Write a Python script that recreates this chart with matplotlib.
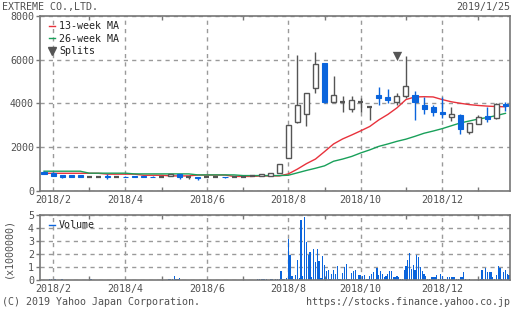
import matplotlib
matplotlib.use('Agg')
import matplotlib.pyplot as plt
from matplotlib.lines import Line2D
import numpy as np
import pandas as pd

# weekly candles, week of 2018/1/29 .. week of 2019/1/21
opens = [875, 830, 740, 730, 730, 650, 660, 690, 645, 660, 680, 680, 660,
         650, 690, 780, 640, 650, 640, 640, 650, 630, 630, 680, 700, 690,
         830, 1520, 3170, 3540, 4690, 5840, 4050, 4090, 3770, 4050, 3860,
         4370, 4280, 4050, 4320, 4410, 3910, 3860, 3590, 3400, 3490, 2710,
         3080, 3450, 3340, 3990]
highs = [900, 850, 750, 740, 740, 660, 670, 760, 650, 670, 690, 690, 670,
         660, 800, 790, 650, 660, 650, 650, 660, 640, 640, 690, 760, 830,
         1240, 3030, 6210, 4460, 6340, 5840, 5240, 4320, 4320, 4230, 3860,
         4740, 4640, 4460, 6160, 4550, 4280, 3950, 4280, 3820, 3540, 3130,
         3490, 3860, 4030, 4060]
lows = [780, 680, 600, 650, 650, 640, 640, 560, 630, 630, 640, 640, 630,
        640, 680, 550, 560, 520, 630, 630, 610, 620, 620, 670, 690, 680,
        820, 1500, 3130, 2990, 4460, 4000, 4050, 3590, 3590, 3590, 3260,
        3950, 4000, 3910, 4230, 3260, 3500, 3450, 3360, 3220, 2620, 2620,
        3060, 3170, 3310, 3650]
closes = [790, 690, 650, 660, 660, 650, 660, 650, 645, 640, 650, 650, 640,
          650, 780, 650, 640, 610, 640, 640, 620, 630, 630, 680, 760, 830,
          1240, 3030, 3950, 4460, 5790, 4090, 4370, 4090, 4140, 4050, 3860,
          4230, 4140, 4320, 4780, 4050, 3770, 3590, 3540, 3540, 2850, 3130,
          3400, 3310, 4000, 3880]

ma13 = [810, 810, 810, 810, 810, 810, 810, 770, 770, 770, 770, 720, 720,
        720, 690, 690, 690, 730, 730, 730, 730, 665, 665, 665, 690, 690,
        690, 780, 1000, 1250, 1460, 1800, 2150, 2380, 2560, 2750, 2950,
        3250, 3500, 3800, 4180, 4300, 4310, 4300, 4180, 4080, 4010, 3950,
        3910, 3880, 3860, 3850]
ma26 = [905, 905, 905, 905, 905, 815, 815, 815, 815, 815, 782, 782, 782,
        782, 782, 782, 782, 736, 736, 736, 736, 736, 705, 705, 705, 705,
        705, 720, 830, 940, 1040, 1150, 1360, 1460, 1580, 1740, 1880, 2040,
        2150, 2270, 2370, 2500, 2640, 2740, 2850, 2980, 3110, 3200, 3290,
        3360, 3450, 3550]

split_week = 39
split_price = 6160

# daily volume (x1000000), 5 trading slots per week
volume = [
    0.03, 0.02, 0.02, 0.03, 0.02,   0.05, 0.10, 0.03, 0.08, 0.02,
    0.03, 0.02, 0.06, 0.02, 0.02,   0.02, 0.03, 0.02, 0.02, 0.03,
    0.02, 0.02, 0.03, 0.02, 0.02,   0.03, 0.02, 0.02, 0.04, 0.02,
    0.02, 0.03, 0.02, 0.02, 0.02,   0.02, 0.02, 0.03, 0.02, 0.02,
    0.03, 0.02, 0.02, 0.02, 0.03,   0.02, 0.02, 0.03, 0.02, 0.02,
    0.02, 0.03, 0.02, 0.02, 0.02,   0.02, 0.02, 0.02, 0.03, 0.02,
    0.03, 0.02, 0.02, 0.02, 0.02,   0.02, 0.03, 0.02, 0.02, 0.02,
    0.03, 0.05, 0.04, 0.08, 0.30,   0.04, 0.06, 0.18, 0.03, 0.02,
    0.02, 0.03, 0.02, 0.02, 0.02,   0.02, 0.02, 0.03, 0.02, 0.02,
    0.02, 0.02, 0.02, 0.03, 0.02,   0.02, 0.03, 0.02, 0.02, 0.02,
    0.02, 0.02, 0.03, 0.02, 0.02,   0.02, 0.02, 0.02, 0.03, 0.02,
    0.03, 0.02, 0.02, 0.02, 0.02,   0.02, 0.03, 0.02, 0.02, 0.02,
    0.10, 0.08, 0.10, 0.08, 0.05,   0.08, 0.03, 0.05, 0.06, 0.03,
    0.05, 0.04, 0.05, 0.69, 0.05,   0.05, 0.13, 3.13, 1.95, 0.30,
    0.10, 0.42, 1.54, 0.15, 4.60,   0.30, 4.87, 2.92, 1.90, 2.15,
    0.20, 2.38, 1.40, 2.40, 1.50,   0.15, 1.85, 1.15, 0.70, 0.77,
    0.10, 0.46, 0.77, 0.46, 1.08,   0.05, 0.05, 0.52, 1.00, 1.23,
    0.05, 0.10, 0.52, 0.70, 0.77,   0.05, 0.36, 0.36, 0.30, 0.36,
    0.10, 0.05, 0.30, 0.46, 0.64,   0.10, 0.93, 0.38, 0.69, 0.46,
    0.20, 0.30, 0.46, 0.69, 0.69,   0.26, 0.20, 0.30, 0.26, 0.10,
    0.05, 0.77, 1.08, 1.54, 2.05,   0.85, 1.15, 0.77, 1.92, 1.80,
    1.03, 0.72, 0.46, 0.30, 0.05,   0.05, 0.20, 0.20, 0.20, 0.36,
    0.05, 0.46, 0.30, 0.05, 0.10,   0.20, 0.20, 0.26, 0.26, 0.26,
    0.05, 0.10, 0.26, 0.26, 0.64,   0.05, 0.03, 0.05, 0.03, 0.02,
    0.02, 0.02, 0.03, 0.05, 0.77,   0.10, 0.92, 0.64, 0.64, 0.60,
    0.20, 0.10, 0.38, 1.08, 0.92,   0.10, 0.64, 0.77, 0.50, 0.38,
]

# first trading day of each week (Monday unless the market was closed)
weeks = pd.date_range('2018-01-29', periods=len(opens), freq='W-MON')
closed_mondays = {'2018-04-30': '2018-05-01', '2018-12-31': '2019-01-04'}
first_days = [pd.Timestamp(closed_mondays.get(str(w.date()), str(w.date())))
              for w in weeks]

BLUE = '#0a64dc'
DARK = '#555555'
RED = '#e8323c'
GREEN = '#19a05a'
GRID = '#9a9a9a'
TXT = '#505050'
FS = 7.2

plt.rcParams['font.family'] = 'DejaVu Sans Mono'
plt.rcParams['font.size'] = FS

fig = plt.figure(figsize=(5.12, 3.10), dpi=100)
ax = fig.add_axes([39.5 / 512, 1 - 191 / 310, 470.5 / 512, 175 / 310])
axv = fig.add_axes([39.5 / 512, 1 - 280 / 310, 470.5 / 512, 65 / 310])

xc = np.arange(len(opens)) * 5 + 2
bw = 2.8
for x, o, h, l, c in zip(xc, opens, highs, lows, closes):
    if c < o:
        ax.vlines(x, l, h, color=BLUE, lw=1, zorder=3)
        ax.bar(x, o - c, bottom=c, width=bw, color=BLUE, edgecolor=BLUE,
               lw=0.8, zorder=4)
    elif c > o:
        ax.vlines(x, l, h, color=DARK, lw=1, zorder=3)
        ax.bar(x, c - o, bottom=o, width=bw, facecolor='white',
               edgecolor=DARK, lw=1, zorder=4)
    else:
        ax.vlines(x, l, h, color=DARK, lw=1, zorder=3)
        ax.hlines(o, x - bw / 2, x + bw / 2, color=DARK, lw=1.6, zorder=4)

ax.plot(xc, ma13, color=RED, lw=1, zorder=2)
ax.plot(xc, ma26, color=GREEN, lw=1, zorder=2)
ax.scatter([xc[split_week]], [split_price], marker='v', s=45, color=DARK,
           zorder=5, linewidths=0)

days = np.arange(len(volume))
axv.bar(days, volume, width=0.7, color=BLUE, lw=0)

# month ticks: week whose first trading day falls in a new month
major, minor, labels = [], [], []
for i in range(1, len(first_days)):
    if first_days[i].month != first_days[i - 1].month:
        if first_days[i].month % 2 == 0:
            major.append(xc[i])
            labels.append(f'{first_days[i].year}/{first_days[i].month}')
        else:
            minor.append(xc[i])

for a in (ax, axv):
    a.set_xlim(-0.5, len(volume) - 0.5)
    a.set_xticks(major)
    a.set_xticklabels(labels)
    a.set_xticks(minor, minor=True)
    a.tick_params(axis='x', which='major', length=0, pad=3, colors=TXT)
    a.tick_params(axis='x', which='minor', length=3, direction='in',
                  top=True, bottom=True, color='#777777', width=1)
    a.tick_params(axis='y', length=3, width=1, color='#777777', colors=TXT, pad=1)
    a.grid(True, which='major', color=GRID, ls=(0, (3, 3)), lw=1)
    for s in a.spines.values():
        s.set_color('#777777')
        s.set_linewidth(1.2)
    a.set_axisbelow(True)

ax.set_ylim(0, 8000)
ax.set_yticks([0, 2000, 4000, 6000, 8000])
axv.set_ylim(0, 5)
axv.set_yticks(range(6))

leg = ax.legend(handles=[Line2D([], [], color=RED, lw=1),
                         Line2D([], [], color=GREEN, lw=1),
                         Line2D([], [], color=DARK, marker='v', ls='none',
                                markersize=6)],
                labels=['13-week MA', '26-week MA', 'Splits'],
                loc='upper left', bbox_to_anchor=(0.01, 1.0), frameon=False,
                handlelength=0.6, handletextpad=0.4, labelspacing=0.25,
                borderaxespad=0.2, borderpad=0.3, fontsize=FS)
for t in leg.get_texts():
    t.set_color('#222222')
legv = axv.legend(handles=[Line2D([], [], color=BLUE, lw=1)], labels=['Volume'],
                  loc='upper left', bbox_to_anchor=(0.01, 1.0), frameon=False,
                  handlelength=0.6, handletextpad=0.4, borderaxespad=0.2,
                  borderpad=0.3, fontsize=FS)
for t in legv.get_texts():
    t.set_color('#222222')

fig.text(2 / 512, 1 - 7 / 310, 'EXTREME CO.,LTD.', ha='left', va='center', color=TXT)
fig.text(510 / 512, 1 - 7 / 310, '2019/1/25', ha='right', va='center', color=TXT)
fig.text(2 / 512, 1 - 302 / 310, '(C) 2019 Yahoo Japan Corporation.', ha='left',
         va='center', color=TXT)
fig.text(510 / 512, 1 - 302 / 310, 'https://stocks.finance.yahoo.co.jp',
         ha='right', va='center', color=TXT)
fig.text(8 / 512, 1 - 248 / 310, '(x1000000)', rotation=90, ha='center',
         va='center', color=TXT)

fig.savefig('out.png', dpi=100)
